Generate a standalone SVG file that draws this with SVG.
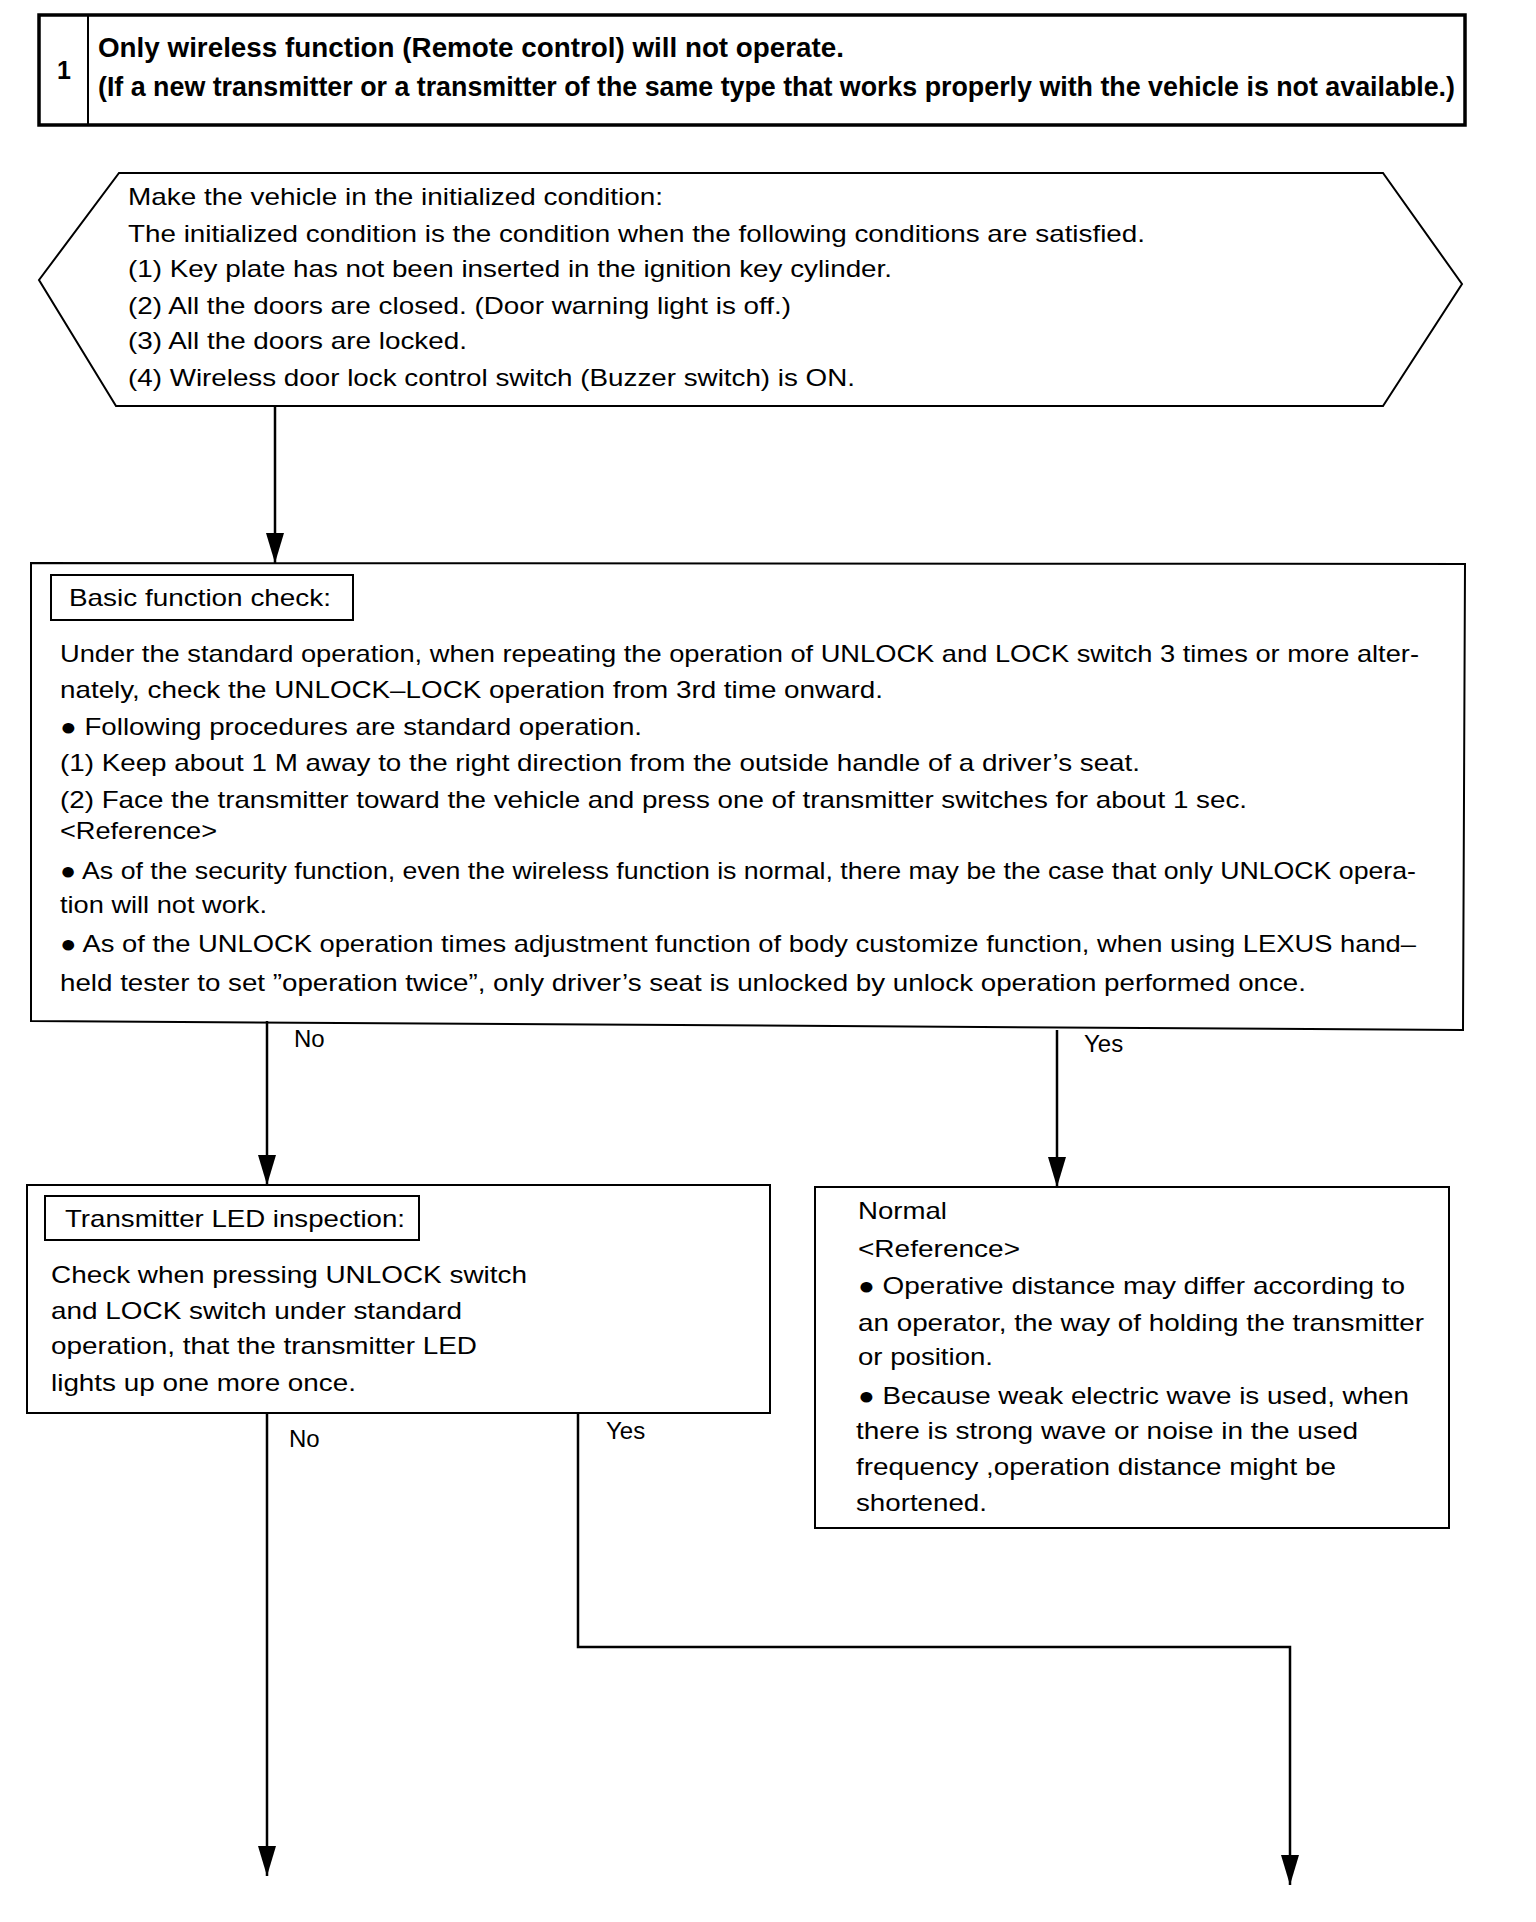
<svg xmlns="http://www.w3.org/2000/svg" width="1536" height="1922" viewBox="0 0 1536 1922">
<style>
.t{font-family:"Liberation Sans",Arial,Helvetica,sans-serif;font-size:24px;fill:#000}
.b{font-weight:bold;font-size:27px}
.box{fill:#fff;stroke:#000;stroke-width:2}
.thick{fill:#fff;stroke:#000;stroke-width:3.5}
.ln{fill:none;stroke:#000;stroke-width:2.5}
</style>
<defs>
<marker id="arr" viewBox="0 0 30 18" refX="30" refY="9" markerWidth="30" markerHeight="18" markerUnits="userSpaceOnUse" orient="auto">
<path d="M0 0 L30 9 L0 18 Z" fill="#000"/>
</marker>
</defs>
<rect width="1536" height="1922" fill="#fff"/>

<g id="header">
<rect class="thick" x="39" y="15" width="1426" height="110"/>
<line x1="88" y1="15" x2="88" y2="125" stroke="#000" stroke-width="2"/>
<text class="t b" x="57" y="79" style="font-size:25px">1</text>
<text class="t b" x="98" y="57" textLength="746" lengthAdjust="spacingAndGlyphs">Only wireless function (Remote control) will not operate.</text>
<text class="t b" x="98" y="96" textLength="1357" lengthAdjust="spacingAndGlyphs">(If a new transmitter or a transmitter of the same type that works properly with the vehicle is not available.)</text>
</g>

<g id="init">
<polygon class="box" points="119,173 1383,173 1462,284 1383,406 116,406 39,280"/>
<text class="t" x="128" y="205" textLength="535" lengthAdjust="spacingAndGlyphs">Make the vehicle in the initialized condition:</text>
<text class="t" x="128" y="242" textLength="1017" lengthAdjust="spacingAndGlyphs">The initialized condition is the condition when the following conditions are satisfied.</text>
<text class="t" x="128" y="277" textLength="764" lengthAdjust="spacingAndGlyphs">(1) Key plate has not been inserted in the ignition key cylinder.</text>
<text class="t" x="128" y="314" textLength="663" lengthAdjust="spacingAndGlyphs">(2) All the doors are closed. (Door warning light is off.)</text>
<text class="t" x="128" y="349" textLength="339" lengthAdjust="spacingAndGlyphs">(3) All the doors are locked.</text>
<text class="t" x="128" y="386" textLength="727" lengthAdjust="spacingAndGlyphs">(4) Wireless door lock control switch (Buzzer switch) is ON.</text>
</g>

<g id="basic">
<polygon class="box" points="31,563 1465,564 1463,1030 31,1021"/>
<rect class="box" x="51" y="575" width="302" height="45"/>
<text class="t" x="69" y="606" textLength="262" lengthAdjust="spacingAndGlyphs">Basic function check:</text>
<text class="t" x="60" y="662" textLength="1359" lengthAdjust="spacingAndGlyphs">Under the standard operation, when repeating the operation of UNLOCK and LOCK switch 3 times or more alter-</text>
<text class="t" x="60" y="698" textLength="823" lengthAdjust="spacingAndGlyphs">nately, check the UNLOCK–LOCK operation from 3rd time onward.</text>
<text class="t" x="60" y="735" textLength="582" lengthAdjust="spacingAndGlyphs">● Following procedures are standard operation.</text>
<text class="t" x="60" y="771" textLength="1080" lengthAdjust="spacingAndGlyphs">(1) Keep about 1 M away to the right direction from the outside handle of a driver’s seat.</text>
<text class="t" x="60" y="808" textLength="1187" lengthAdjust="spacingAndGlyphs">(2) Face the transmitter toward the vehicle and press one of transmitter switches for about 1 sec.</text>
<text class="t" x="60" y="839" textLength="157" lengthAdjust="spacingAndGlyphs">&lt;Reference&gt;</text>
<text class="t" x="60" y="879" textLength="1356" lengthAdjust="spacingAndGlyphs">● As of the security function, even the wireless function is normal, there may be the case that only UNLOCK opera-</text>
<text class="t" x="60" y="913" textLength="207" lengthAdjust="spacingAndGlyphs">tion will not work.</text>
<text class="t" x="60" y="952" textLength="1356" lengthAdjust="spacingAndGlyphs">● As of the UNLOCK operation times adjustment function of body customize function, when using LEXUS hand–</text>
<text class="t" x="60" y="991" textLength="1246" lengthAdjust="spacingAndGlyphs">held tester to set ”operation twice”, only driver’s seat is unlocked by unlock operation performed once.</text>
</g>

<g id="led">
<rect class="box" x="27" y="1185" width="743" height="228"/>
<rect class="box" x="45" y="1196" width="374" height="44"/>
<text class="t" x="65" y="1227" textLength="340" lengthAdjust="spacingAndGlyphs">Transmitter LED inspection:</text>
<text class="t" x="51" y="1283" textLength="476" lengthAdjust="spacingAndGlyphs">Check when pressing UNLOCK switch</text>
<text class="t" x="51" y="1319" textLength="411" lengthAdjust="spacingAndGlyphs">and LOCK switch under standard</text>
<text class="t" x="51" y="1354" textLength="426" lengthAdjust="spacingAndGlyphs">operation, that the transmitter LED</text>
<text class="t" x="51" y="1391" textLength="305" lengthAdjust="spacingAndGlyphs">lights up one more once.</text>
</g>

<g id="normal">
<rect class="box" x="815" y="1187" width="634" height="341"/>
<text class="t" x="858" y="1219" textLength="89" lengthAdjust="spacingAndGlyphs">Normal</text>
<text class="t" x="858" y="1257" textLength="162" lengthAdjust="spacingAndGlyphs">&lt;Reference&gt;</text>
<text class="t" x="858" y="1294" textLength="547" lengthAdjust="spacingAndGlyphs">● Operative distance may differ according to</text>
<text class="t" x="858" y="1331" textLength="566" lengthAdjust="spacingAndGlyphs">an operator, the way of holding the transmitter</text>
<text class="t" x="858" y="1365" textLength="135" lengthAdjust="spacingAndGlyphs">or position.</text>
<text class="t" x="858" y="1404" textLength="551" lengthAdjust="spacingAndGlyphs">● Because weak electric wave is used, when</text>
<text class="t" x="856" y="1439" textLength="502" lengthAdjust="spacingAndGlyphs">there is strong wave or noise in the used</text>
<text class="t" x="856" y="1475" textLength="480" lengthAdjust="spacingAndGlyphs">frequency ,operation distance might be</text>
<text class="t" x="856" y="1511" textLength="131" lengthAdjust="spacingAndGlyphs">shortened.</text>
</g>

<g id="connectors">
<path class="ln" d="M275 406 V563" marker-end="url(#arr)"/>
<path class="ln" d="M267 1021 V1185" marker-end="url(#arr)"/>
<path class="ln" d="M1057 1030 V1187" marker-end="url(#arr)"/>
<path class="ln" d="M267 1413 V1876" marker-end="url(#arr)"/>
<path class="ln" d="M578 1413 V1647 H1290 V1885" marker-end="url(#arr)"/>
<text class="t" x="294" y="1047">No</text>
<text class="t" x="1084" y="1052">Yes</text>
<text class="t" x="289" y="1447">No</text>
<text class="t" x="606" y="1439">Yes</text>
</g>
</svg>
